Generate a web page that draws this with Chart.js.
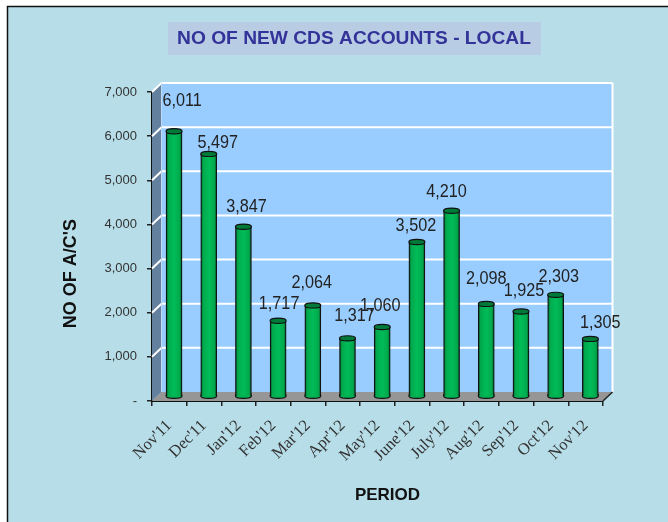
<!DOCTYPE html>
<html><head><meta charset="utf-8">
<style>html,body{margin:0;padding:0;background:#fff}canvas{display:block}</style>
<script src="https://cdn.jsdelivr.net/npm/chart.js@4"></script></head>
<body><div style="width:668px;height:522px;position:relative"><canvas id="c"></canvas></div>
<script>
const categories=["Nov'11","Dec'11","Jan'12","Feb'12","Mar'12","Apr'12","May'12","June'12","July'12","Aug'12","Sep'12","Oct'12","Nov'12"];
const accounts=[6011,5497,3847,1717,2064,1317,1575,3502,4210,2098,1925,2303,1305];
const valueLabels=["6,011","5,497","3,847","1,717","2,064","1,317","1,060","3,502","4,210","2,098","1,925","2,303","1,305"];
const yTicks=[0,1000,2000,3000,4000,5000,6000,7000];
const titleText="NO OF NEW CDS ACCOUNTS - LOCAL";
const xTitle="PERIOD", yTitle="NO OF A/C'S";

// label placement relative to the top of each bar (manual in the original)
const labelDx=[8,9,3,1,-1,7,-2,-1,-5,0,3,3,10];
const labelDy=[-30,-11,-20,-17,-22,-22,-21,-16,-19,-25,-21,-18,-16];
const DX=9.5, DY=-9, BX=4.7, BY=-4.5;
const SANS='"Liberation Sans", Arial, sans-serif', SERIF='"Liberation Serif", "Times New Roman", serif';

const scene={id:'scene',
 afterLayout(ch){ ch.titleBlock.left+=105;
  const sx=ch.scales.x, sy=ch.scales.y;
  if(!sx.__w){sx.__w=1;const o=sx.drawTitle;sx.drawTitle=function(){const c=this.ctx;c.save();c.translate(10,0);o.call(this);c.restore();};
   const p=sy.drawTitle;sy.drawTitle=function(){const c=this.ctx;c.save();c.translate(0,27);p.call(this);c.restore();};}
 },
 beforeDraw(ch){const c=ch.ctx;c.save();
  c.fillStyle='#fff';c.fillRect(0,0,668,522);
  c.fillStyle='#B7DDE8';c.fillRect(8,7,660,515);
  c.strokeStyle='#111';c.lineWidth=1.5;c.beginPath();c.moveTo(7.5,522);c.lineTo(7.5,6.5);c.lineTo(668,6.5);c.stroke();
  c.fillStyle='#B8CCE4';c.fillRect(168,22,373,33);
  c.restore();},
 beforeDatasetsDraw(ch){const c=ch.ctx,a=ch.chartArea,sy=ch.scales.y;c.save();
  const l=a.left,r=a.right,t=a.top,b=a.bottom;
  c.fillStyle='#99CCFF';c.fillRect(l+DX,t+DY,r-l,b-t);
  c.fillStyle='#64809F';c.beginPath();c.moveTo(l,t);c.lineTo(l+DX,t+DY);c.lineTo(l+DX,b+DY);c.lineTo(l,b);c.closePath();c.fill();
  c.fillStyle='#969696';c.beginPath();c.moveTo(l,b);c.lineTo(r,b);c.lineTo(r+DX,b+DY);c.lineTo(l+DX,b+DY);c.closePath();c.fill();
  c.strokeStyle='#fff';c.lineWidth=2;
  yTicks.forEach(v=>{ if(v===0)return; const y=sy.getPixelForValue(v);c.beginPath();c.moveTo(l,y);c.lineTo(l+DX,y+DY);c.lineTo(r+DX,y+DY);c.stroke();});
  c.beginPath();c.moveTo(r+DX,t+DY);c.lineTo(r+DX,b+DY);c.stroke();
  c.strokeStyle='#BFD9F2';c.lineWidth=1;c.beginPath();c.moveTo(l+DX,t+DY);c.lineTo(l+DX,b+DY);c.stroke();
  c.strokeStyle='#222';c.lineWidth=1.5;c.beginPath();c.moveTo(r,b);c.lineTo(r+DX,b+DY);c.stroke();
  c.restore();},
 beforeDatasetDraw(ch,args){const c=ch.ctx;c.save();c.translate(BX,BY);
  args.meta.data.forEach(el=>{c.beginPath();c.ellipse(el.x,el.base,8,2.6,0,0,Math.PI*2);c.fillStyle='#00B050';c.fill();c.strokeStyle='#111';c.lineWidth=1.2;c.stroke();});},
 afterDatasetDraw(ch,args){const c=ch.ctx;
  args.meta.data.forEach(el=>{c.beginPath();c.ellipse(el.x,el.y,8,2.6,0,0,Math.PI*2);c.fillStyle='#007A38';c.fill();c.strokeStyle='#111';c.lineWidth=1.2;c.stroke();});
  c.restore();
  c.fillStyle='#222';c.font='18px '+SANS;c.textAlign='center';c.textBaseline='middle';
  args.meta.data.forEach((el,i)=>{c.save();c.translate(el.x+BX+labelDx[i],el.y+BY+labelDy[i]);c.scale(.9,1);c.fillText(valueLabels[i],0,0);c.restore();});
  }
};

function barFill(ctx){
 const ch=ctx.chart; if(!ch.chartArea||ctx.dataIndex===undefined) return '#00B050';
 const x=ch.scales.x.getPixelForValue(ctx.dataIndex);
 const g=ch.ctx.createLinearGradient(x-8,0,x+8,0);
 g.addColorStop(0,'#004a20');g.addColorStop(.14,'#00A84C');g.addColorStop(.5,'#00BC58');g.addColorStop(.86,'#00A84C');g.addColorStop(1,'#004a20');
 return g;
}

new Chart(document.getElementById('c'),{
 type:'bar',
 data:{labels:categories,datasets:[{label:'New CDS accounts',data:accounts,backgroundColor:barFill,borderColor:'#111',
   borderWidth:{left:1.2,right:1.2,top:0,bottom:0},borderSkipped:false,barThickness:16,clip:false}]},
 plugins:[scene],
 options:{responsive:true,maintainAspectRatio:false,animation:false,
  layout:{padding:{left:0,right:65,top:0,bottom:0}},
  plugins:{legend:{display:false},tooltip:{enabled:false},
   title:{display:true,text:titleText,color:'#333399',font:{family:SANS,size:19.2,weight:'bold'},padding:{top:27,bottom:42}}},
  scales:{
   x:{offset:true,afterFit(s){s.height=121;},
     grid:{drawOnChartArea:false,drawTicks:true,tickLength:5,color:'#222',lineWidth:1.5},
     border:{display:true,color:'#111',width:2},
     ticks:{color:'#333',font:{family:SERIF,size:16.5},maxRotation:45,minRotation:45,padding:10,autoSkip:false},
     title:{display:true,text:xTitle,color:'#111',font:{family:SANS,size:17,weight:'bold'},padding:{top:0,bottom:16}}},
   y:{min:0,max:7000,afterFit(s){s.width=152;},afterBuildTicks(s){s.ticks=yTicks.map(v=>({value:v}));},
     grid:{drawOnChartArea:false,drawTicks:true,tickLength:5,color:'#222',lineWidth:1.5},
     border:{display:true,color:'#111',width:2},
     ticks:{color:'#333',font:{family:SANS,size:13},padding:10,callback:v=>v===0?'-':v.toLocaleString('en-US')},
     title:{display:true,text:yTitle,color:'#111',font:{family:SANS,size:18,weight:'bold'},padding:{top:60,bottom:0}}}
  }}
});
</script></body></html>
